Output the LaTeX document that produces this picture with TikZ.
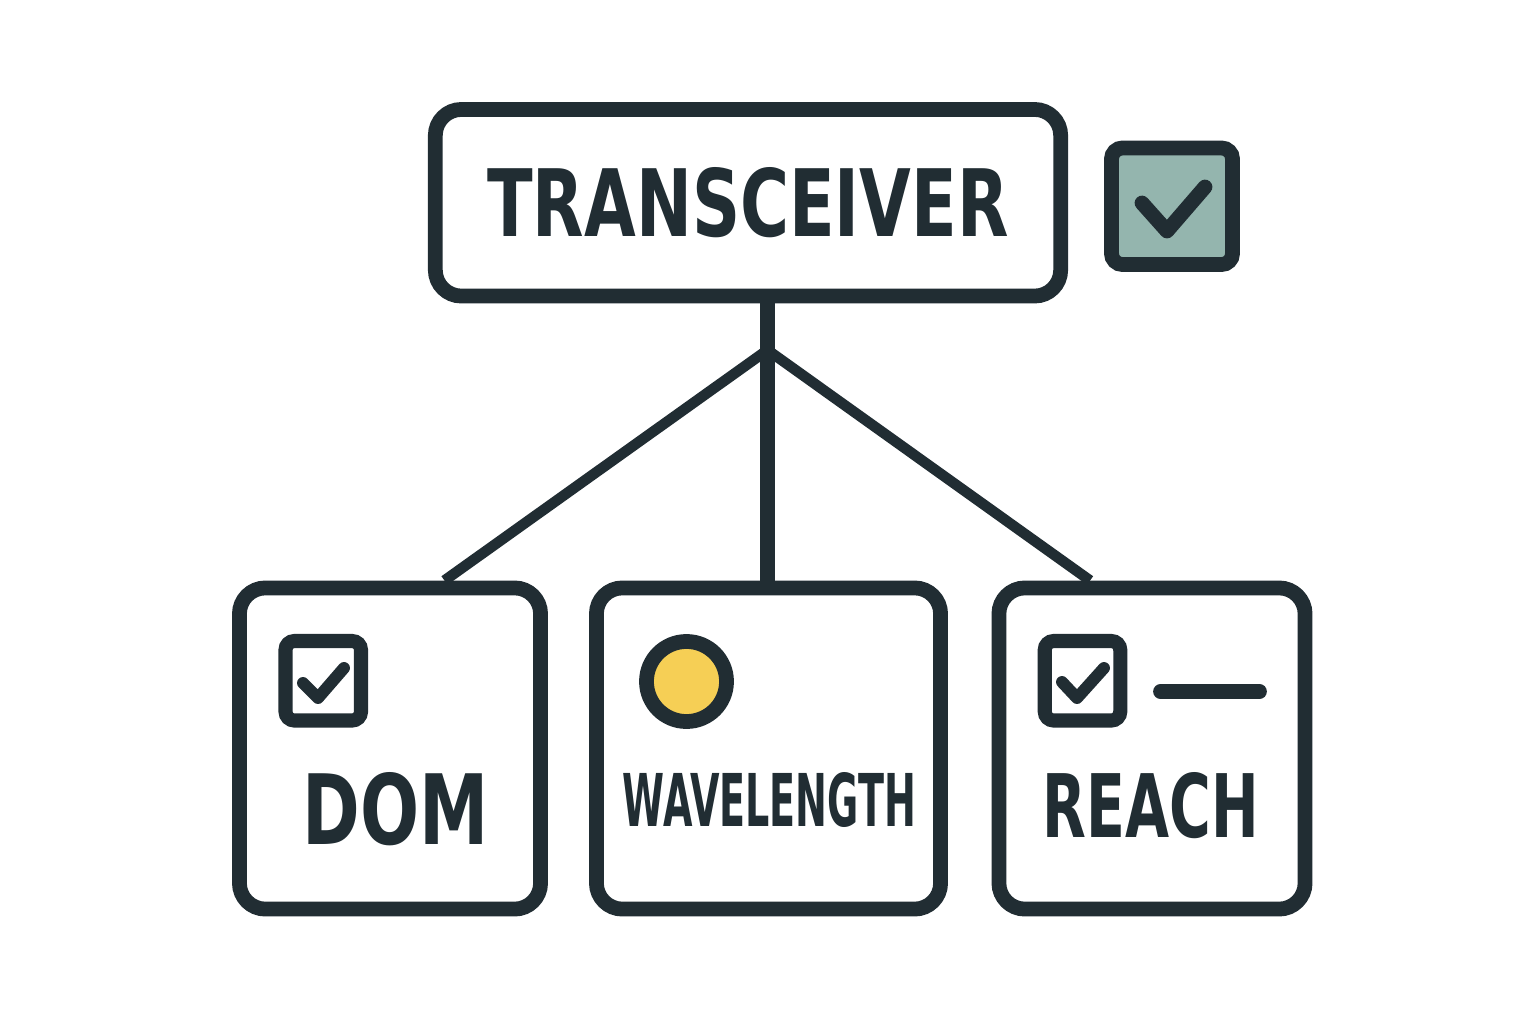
\documentclass[tikz,border=0pt]{standalone}
\usepackage{fontspec}
\usepackage{graphicx}
\setmainfont{DejaVu Sans}
\usetikzlibrary{calc,backgrounds}
\definecolor{ink}{RGB}{33,45,51}
\definecolor{sage}{RGB}{148,181,174}
\definecolor{sun}{RGB}{246,207,85}
\tikzset{
  box/.style={draw=ink, line width=4.2pt, rounded corners=0.26cm, fill=white, inner sep=0pt},
  cbox/.style={draw=ink, line width=4pt, rounded corners=0.09cm, fill=white, inner sep=0pt,
               minimum width=0.755cm, minimum height=0.795cm},
  tick/.style={draw=ink, line width=3.4pt, line cap=round, line join=round},
  link/.style={draw=ink, line width=4.2pt},
  diag/.style={draw=ink, line width=3pt},
  lbl/.style={text=ink, font=\bfseries, inner sep=0pt},
}
\begin{document}
\begin{tikzpicture}[x=0.01cm,y=-0.01cm]
\useasboundingbox (0,0) rectangle (1536,1024);

% top box
\node[box, minimum width=6.25cm, minimum height=1.865cm, lbl, draw=ink] (top) at (748,202.75)
  {\resizebox{5.21cm}{0.69cm}{TRANSCEIVER}};

% top checkbox
\node[box, fill=sage, rounded corners=0.11cm, minimum width=1.21cm, minimum height=1.165cm] (tcb) at (1172,206.25) {};
\draw[tick, line width=4.2pt] (1142,203) -- (1167,231) -- (1205,187);

% bottom boxes
\node[box, minimum width=3.01cm, minimum height=3.21cm] (dom) at (390,748.5) {};
\node[box, minimum width=3.44cm, minimum height=3.21cm] (wave) at (768.5,748.5) {};
\node[box, minimum width=3.06cm, minimum height=3.21cm] (reach) at (1152,748.5) {};

% connectors
\coordinate (J) at (767.5,350);
\begin{scope}[on background layer]
  \fill[white] (0,0) rectangle (1536,1024);
  \draw[link] (top.south -| J) -- (J) -- (J |- wave.north);
  \draw[diag] (J) -- ($(dom.north)!0.345!(dom.north east)$);
  \draw[diag] (J) -- ($(reach.north)!0.386!(reach.north west)$);
\end{scope}

% DOM content
\node[cbox] (domcb) at (323.25,680.75) {};
\draw[tick] (303,683) -- (318,698) -- (344,668);
\node[lbl] (domt) at (396,809) {\resizebox{1.86cm}{0.72cm}{DOM}};

% WAVELENGTH content
\node[circle, draw=ink, fill=sun, line width=4.2pt, minimum size=0.8cm, inner sep=0pt] (dot) at (686.5,681.5) {};
\node[lbl] (wavet) at (769.5,800) {\resizebox{2.93cm}{0.54cm}{WAVELENGTH}};

% REACH content
\node[cbox] (reachcb) at (1082.5,680.75) {};
\draw[tick] (1062,682) -- (1077,698) -- (1104,668);
\coordinate (dashA) at (1160.5,691.5);
\coordinate (dashB) at (1259.5,691.5);
\draw[ink, line width=4.2pt, line cap=round] (dashA) -- (dashB);
\node[lbl] (reacht) at (1151,805.5) {\resizebox{2.16cm}{0.65cm}{REACH}};
\end{tikzpicture}
\end{document}
